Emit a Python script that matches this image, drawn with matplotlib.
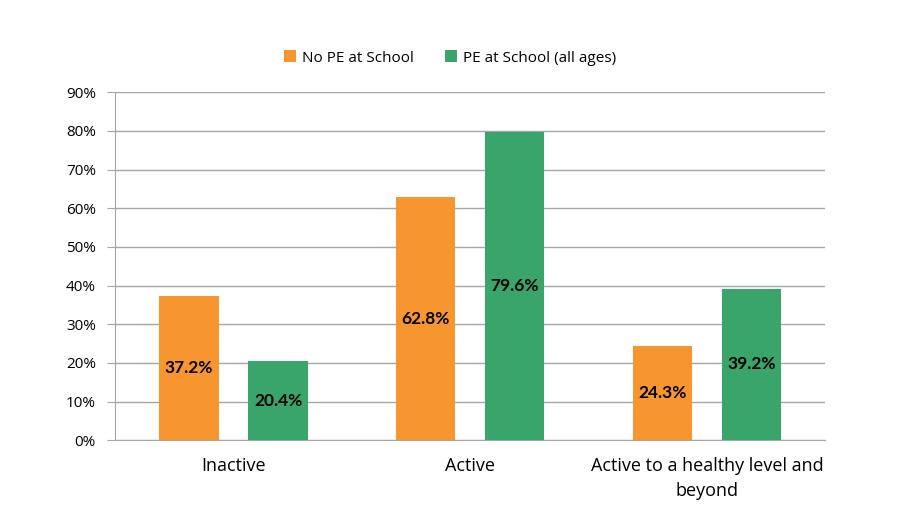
import numpy as np
import matplotlib.pyplot as plt
from matplotlib.ticker import PercentFormatter

plt.rcParams['font.family'] = ['Open Sans', 'DejaVu Sans']

categories = ['Inactive', 'Active', 'Active to a healthy level and\nbeyond']
no_pe = [37.2, 62.8, 24.3]
pe_school = [20.4, 79.6, 39.2]
series_names = ['No PE at School', 'PE at School (all ages)']

orange = '#F7962F'
green = '#3AA56B'
grey = '#A6A6A6'

fig = plt.figure(figsize=(9, 5.24), dpi=100)
ax = fig.add_axes([0.128, 0.160, 0.789, 0.664])

x = np.arange(len(categories))
w = 0.25
off = 0.188
b1 = ax.bar(x - off, no_pe, w, color=orange, label=series_names[0], zorder=3)
b2 = ax.bar(x + off, pe_school, w, color=green, label=series_names[1], zorder=3)

for bars, vals in ((b1, no_pe), (b2, pe_school)):
    for b, v in zip(bars, vals):
        ax.text(b.get_x() + b.get_width() / 2, v / 2, f'{v:.1f}%',
                ha='center', va='center', fontsize=12.5, fontweight='bold',
                family=['Lato', 'DejaVu Sans'], color='black', zorder=4)

ax.set_xlim(-0.5, 2.5)
ax.set_ylim(0, 90)
ax.set_yticks(np.arange(0, 91, 10))
ax.yaxis.set_major_formatter(PercentFormatter(decimals=0))
ax.set_xticks(x)
ax.set_xticklabels(categories, fontsize=13, linespacing=1.5)
ax.tick_params(axis='x', length=0, pad=12)
ax.tick_params(axis='y', length=6, color=grey, labelsize=11, pad=8, direction='out')
ax.grid(axis='y', color=grey, linewidth=1, zorder=0)

for s in ['top', 'right']:
    ax.spines[s].set_visible(False)
ax.spines['left'].set_color(grey)
ax.spines['bottom'].set_color(grey)

fig.legend(loc='upper center', bbox_to_anchor=(0.5, 0.93), ncol=2, frameon=False,
           fontsize=11, handlelength=0.8, handleheight=0.8, columnspacing=2.0, handletextpad=0.4)

fig.savefig('out.png')
